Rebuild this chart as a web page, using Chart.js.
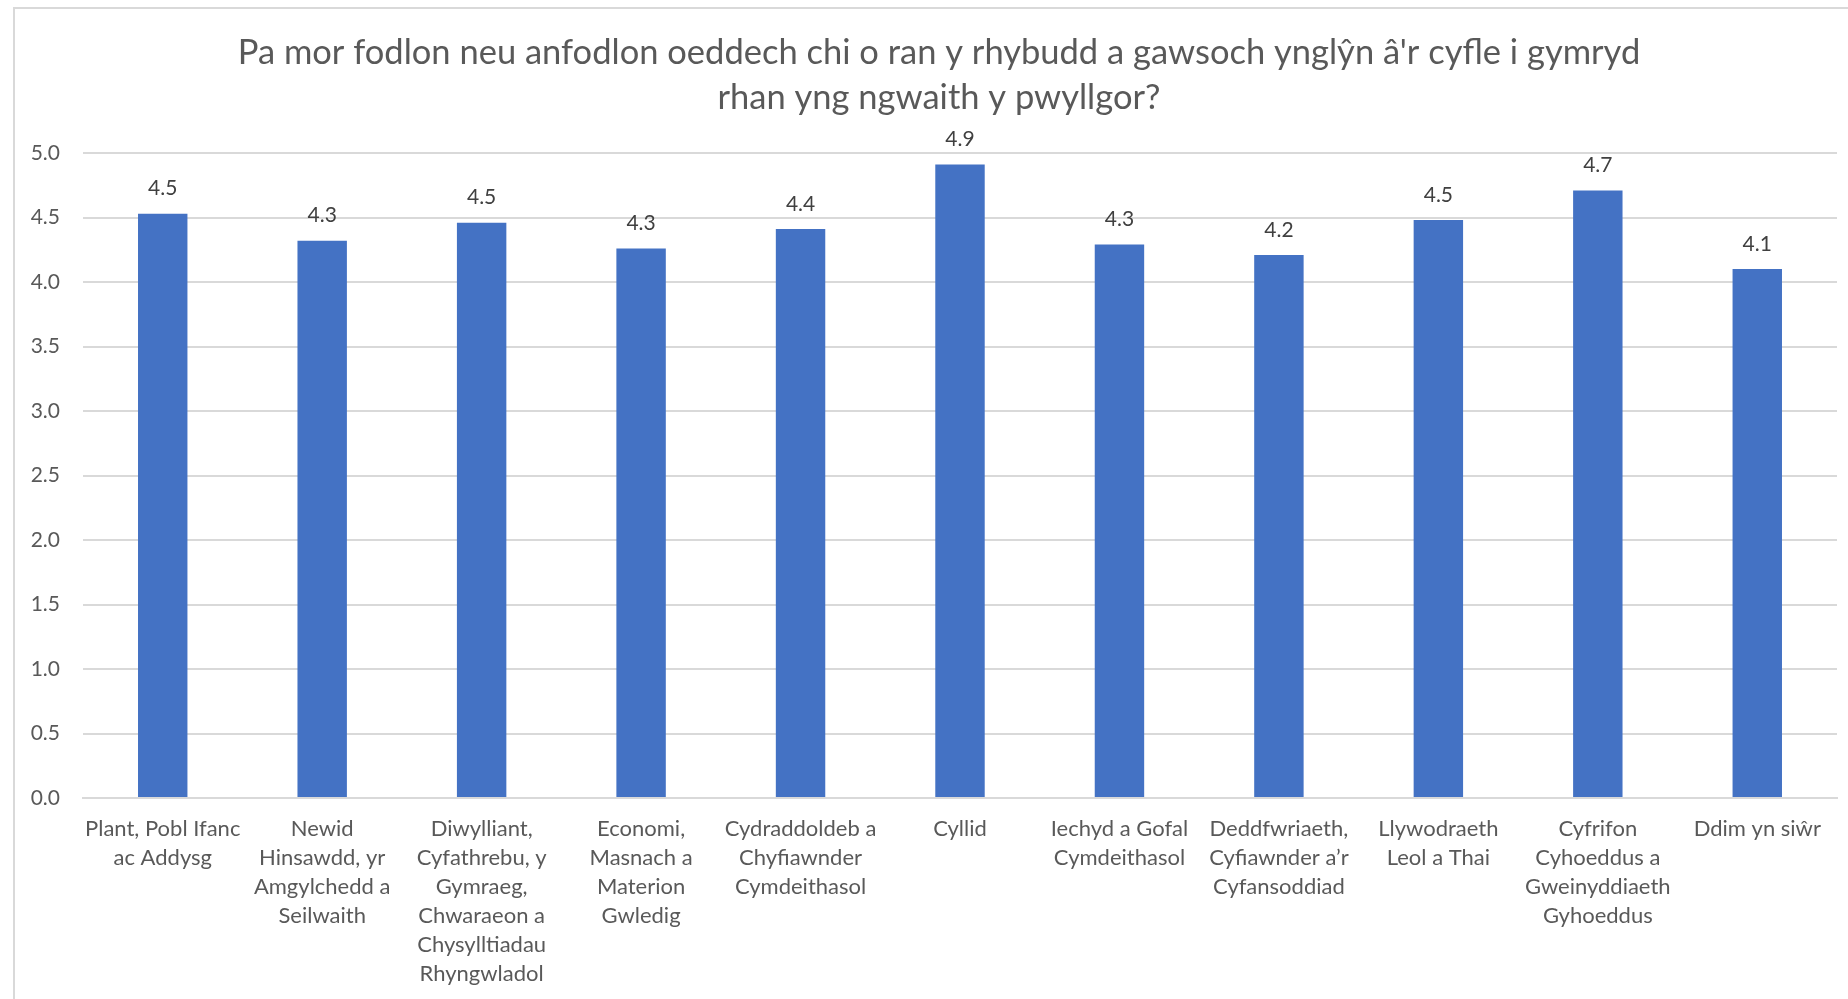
<!DOCTYPE html>
<html>
<head>
<meta charset="utf-8">
<script src="https://cdn.jsdelivr.net/npm/chart.js@4/dist/chart.umd.min.js"></script>
<style>
  html, body { margin: 0; padding: 0; background: #fff; }
  #wrap { width: 1848px; height: 999px; position: relative; }
</style>
</head>
<body>
<div id="wrap"><canvas id="myChart"></canvas></div>
<script>
// categories (as wrapped in the original)
var categories = [
  ["Plant, Pobl Ifanc", "ac Addysg"],
  ["Newid", "Hinsawdd, yr", "Amgylchedd a", "Seilwaith"],
  ["Diwylliant,", "Cyfathrebu, y", "Gymraeg,", "Chwaraeon a", "Chysylltiadau", "Rhyngwladol"],
  ["Economi,", "Masnach a", "Materion", "Gwledig"],
  ["Cydraddoldeb a", "Chyfiawnder", "Cymdeithasol"],
  ["Cyllid"],
  ["Iechyd a Gofal", "Cymdeithasol"],
  ["Deddfwriaeth,", "Cyfiawnder a’r", "Cyfansoddiad"],
  ["Llywodraeth", "Leol a Thai"],
  ["Cyfrifon", "Cyhoeddus a", "Gweinyddiaeth", "Gyhoeddus"],
  ["Ddim yn siŵr"]
];
var scores = [4.53, 4.32, 4.46, 4.26, 4.41, 4.91, 4.29, 4.21, 4.48, 4.71, 4.10];
var yTicks = [0, 0.5, 1, 1.5, 2, 2.5, 3, 3.5, 4, 4.5, 5];
var titleLines = [
  "Pa mor fodlon neu anfodlon oeddech chi o ran y rhybudd a gawsoch ynglŷn â'r cyfle i gymryd",
  "rhan yng ngwaith y pwyllgor?"
];

var FONT = "Lato, 'Open Sans', sans-serif";

var valueLabels = {
  id: 'valueLabels',
  afterDatasetsDraw: function(chart) {
    var ctx = chart.ctx;
    var meta = chart.getDatasetMeta(0);
    ctx.save();
    ctx.font = "21px " + FONT;
    ctx.fillStyle = "#404040";
    ctx.textAlign = "center";
    ctx.textBaseline = "middle";
    meta.data.forEach(function(bar, i) {
      ctx.fillText(scores[i].toFixed(1), bar.x, bar.y - 25);
    });
    ctx.restore();
  }
};

// frame + title (title sits a bit right of the canvas centre, like the original)
var frame = {
  id: 'frame',
  beforeDraw: function(chart) {
    var ctx = chart.ctx;
    ctx.save();
    ctx.strokeStyle = "#d9d9d9";
    ctx.lineWidth = 2;
    ctx.strokeRect(14, 8, 1900, 1100);
    ctx.font = "34.5px " + FONT;
    ctx.fillStyle = "#595959";
    ctx.textAlign = "center";
    ctx.textBaseline = "middle";
    titleLines.forEach(function(t, i) {
      ctx.fillText(t, 939, 53 + i * 45);
    });
    ctx.restore();
  }
};

var ctx = document.getElementById("myChart");
var myChart = new Chart(ctx, {
  type: 'bar',
  data: {
    labels: categories,
    datasets: [{
      label: 'Score',
      data: scores,
      backgroundColor: "#4472C4",
      barPercentage: 0.31,
      categoryPercentage: 1.0
    }]
  },
  options: {
    responsive: true,
    maintainAspectRatio: false,
    animation: false,
    layout: { padding: { top: 153, right: 11, bottom: 0, left: 0 } },
    plugins: {
      legend: { display: false },
      tooltip: { enabled: false },
      title: { display: false }
    },
    scales: {
      x: {
        grid: { display: false, drawTicks: false },
        border: { color: "#d9d9d9", width: 2 },
        ticks: {
          color: "#595959",
          font: { family: FONT, size: 22, lineHeight: '29px' },
          padding: 16,
          maxRotation: 0,
          autoSkip: false
        },
        afterFit: function(scale) { scale.height = 201; }
      },
      y: {
        min: 0,
        max: 5,
        afterBuildTicks: function(scale) {
          scale.ticks = yTicks.map(function(v) { return { value: v }; });
        },
        grid: { color: "#d9d9d9", lineWidth: 2, drawTicks: false },
        border: { display: false },
        ticks: {
          color: "#595959",
          font: { family: FONT, size: 21 },
          padding: 23,
          callback: function(v) { return Number(v).toFixed(1); }
        },
        afterFit: function(scale) { scale.width = 83; }
      }
    }
  },
  plugins: [frame, valueLabels]
});
</script>
</body>
</html>
